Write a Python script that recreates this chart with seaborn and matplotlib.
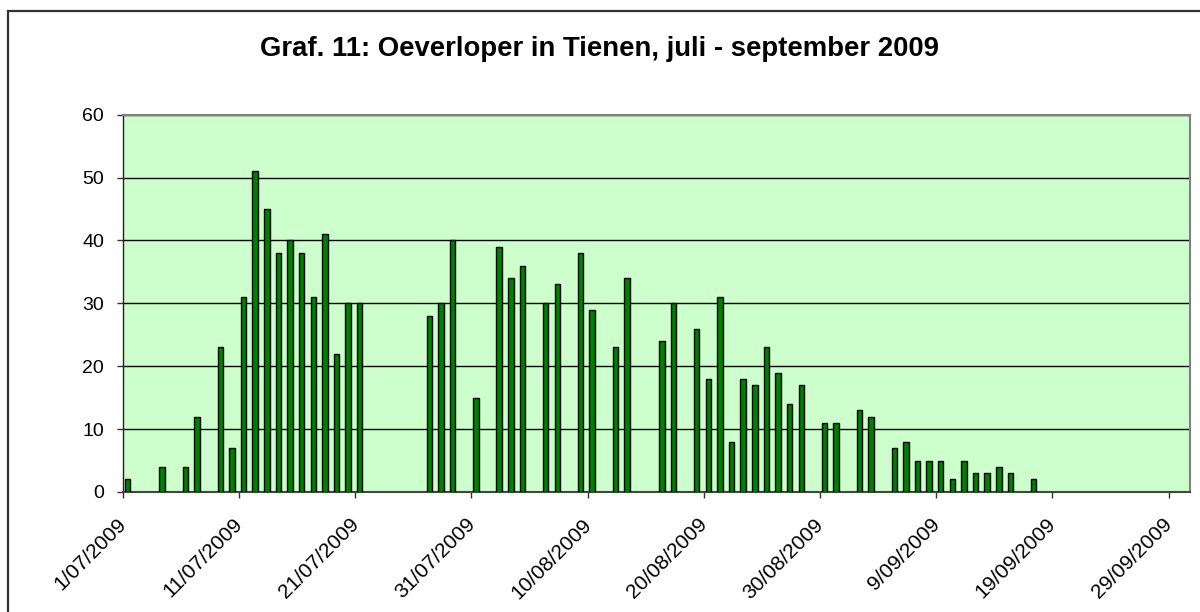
import matplotlib
matplotlib.use("Agg")
import matplotlib.pyplot as plt
from matplotlib.patches import Rectangle
from matplotlib.transforms import ScaledTranslation
import pandas as pd
import seaborn as sns

# ---- data ----
dates = [
    "2009-07-01", "2009-07-04", "2009-07-06", "2009-07-07", "2009-07-09", "2009-07-10",
    "2009-07-11", "2009-07-12", "2009-07-13", "2009-07-14", "2009-07-15", "2009-07-16",
    "2009-07-17", "2009-07-18", "2009-07-19", "2009-07-20", "2009-07-21",
    "2009-07-27", "2009-07-28", "2009-07-29", "2009-07-31",
    "2009-08-02", "2009-08-03", "2009-08-04", "2009-08-06", "2009-08-07", "2009-08-09",
    "2009-08-10", "2009-08-12", "2009-08-13", "2009-08-16", "2009-08-17", "2009-08-19",
    "2009-08-20", "2009-08-21", "2009-08-22", "2009-08-23", "2009-08-24", "2009-08-25",
    "2009-08-26", "2009-08-27", "2009-08-28", "2009-08-30", "2009-08-31",
    "2009-09-02", "2009-09-03", "2009-09-05", "2009-09-06", "2009-09-07", "2009-09-08",
    "2009-09-09", "2009-09-10", "2009-09-11", "2009-09-12", "2009-09-13", "2009-09-14",
    "2009-09-15", "2009-09-17",
]
values = [
    2, 4, 4, 12, 23, 7,
    31, 51, 45, 38, 40, 38,
    31, 41, 22, 30, 30,
    28, 30, 40, 15,
    39, 34, 36, 30, 33, 38,
    29, 23, 34, 24, 30, 26,
    18, 31, 8, 18, 17, 23,
    19, 14, 17, 11, 11,
    13, 12, 7, 8, 5, 5,
    5, 2, 5, 3, 3, 4,
    3, 2,
]
axis_start = "2009-07-01"
tick_step_days = 10
n_ticks = 10
y_ticks = [0, 10, 20, 30, 40, 50, 60]
title = "Graf. 11: Oeverloper in Tienen, juli - september 2009"

# ---- build ----
start = pd.Timestamp(axis_start)
df = pd.DataFrame({"date": pd.to_datetime(dates), "n": values})
df["day"] = (df["date"] - start).dt.days + 0.4

sns.set_style("white")
plt.rcParams["font.family"] = ["Liberation Sans", "DejaVu Sans"]
plt.rcParams["text.color"] = "black"

fig = plt.figure(figsize=(12, 6.12), dpi=100)
ax = fig.add_axes([122.7 / 1200, 1 - 492 / 612, (1190 - 122.7) / 1200, (492 - 114.7) / 612])
ax.set_facecolor("#CCFFCC")

sns.barplot(data=df, x="day", y="n", native_scale=True, width=0.47,
            color="#008000", saturation=1, edgecolor="black", linewidth=1,
            errorbar=None, ax=ax, zorder=3)

ax.set_xlim(0, 91.85)
ax.set_ylim(0, 60)
ax.set_yticks(y_ticks)
ax.set_yticklabels([str(v) for v in y_ticks], fontsize=14)
tick_days = [i * tick_step_days for i in range(n_ticks)]
tick_labels = []
for d in tick_days:
    t = start + pd.Timedelta(days=d)
    tick_labels.append(f"{t.day}/{t.month:02d}/{t.year}")
ax.set_xticks(tick_days)
ax.set_xticklabels(tick_labels, rotation=45, ha="right", rotation_mode="anchor", fontsize=15)
ax.set_xlabel("")
ax.set_ylabel("")

ax.yaxis.grid(True, color="black", linewidth=1, zorder=1)
ax.set_axisbelow(True)
ax.tick_params(axis="both", which="both", direction="out", length=4.5, width=1,
               color="#333333", labelcolor="black")
ax.tick_params(axis="x", pad=9)
ax.tick_params(axis="y", pad=9)
ax.xaxis.set_ticks_position("bottom")
ax.yaxis.set_ticks_position("left")

shift = ScaledTranslation(-6 / 100, -4 / 100, fig.dpi_scale_trans)
for lab in ax.get_xticklabels():
    lab.set_transform(lab.get_transform() + shift)

for side in ["top", "right"]:
    ax.spines[side].set_color("#808080")
    ax.spines[side].set_linewidth(1.5)
ax.spines["left"].set_color("#222222")
ax.spines["bottom"].set_color("#444444")
ax.spines["left"].set_linewidth(1)
ax.spines["bottom"].set_linewidth(1.5)

# title: fit to the reference width (~678 px)
ttl = fig.text(0.5, 1 - 49 / 612, title, ha="center", va="center",
               fontsize=18, fontweight="bold", color="black")
fig.canvas.draw()
w = ttl.get_window_extent().width
ttl.set_fontsize(18 * 678 / w)

# chart area border (cropped on right and bottom)
fig.patches.append(Rectangle((8 / 1200, -0.1), 1.2, 1 - 11 / 612 + 0.1,
                             transform=fig.transFigure, fill=False,
                             edgecolor="#333333", linewidth=1.6, zorder=0))

fig.savefig("out.png", dpi=100, facecolor="white")
